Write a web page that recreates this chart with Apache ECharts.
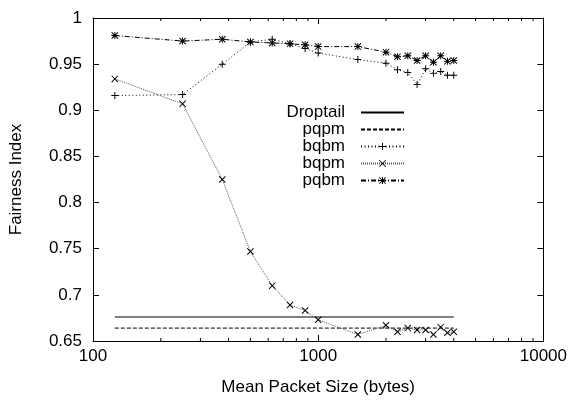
<!DOCTYPE html>
<html style="height: 100%">
<head>
    <meta charset="UTF-8">
    <title>Fairness Index vs Mean Packet Size</title>
    <script src="https://cdn.jsdelivr.net/npm/echarts/dist/echarts.min.js"></script>
    <style>
        #main {
            width: 570px;
            height: 401px;
        }
    </style>
</head>
<body style="margin: 0; background: #fff">
    <div id="main"></div>
    <script type="text/javascript">
        // packet sizes (bytes) for the measured series
        var sizes = [125, 250, 375, 500, 625, 750, 875, 1000, 1500, 2000, 2250, 2500, 2750, 3000, 3250, 3500, 3750, 4000];
        // flat reference lines only have two end points
        var flatSizes = [125, 4000];
        var droptail = [0.676, 0.676];
        var pqpm = [0.664, 0.664];
        var bqbm = [0.916, 0.917, 0.950, 0.974, 0.977, 0.972, 0.967, 0.962, 0.955, 0.951, 0.944, 0.941, 0.928, 0.945, 0.940, 0.942, 0.938, 0.938];
        var bqpm = [0.934, 0.907, 0.825, 0.747, 0.710, 0.689, 0.683, 0.673, 0.657, 0.667, 0.660, 0.664, 0.662, 0.662, 0.657, 0.665, 0.659, 0.660];
        var pqbm = [0.981, 0.975, 0.977, 0.974, 0.973, 0.972, 0.971, 0.969, 0.969, 0.963, 0.958, 0.959, 0.954, 0.959, 0.952, 0.959, 0.953, 0.954];
        var minorTicks = [200, 300, 400, 500, 600, 700, 800, 900, 2000, 3000, 4000, 5000, 6000, 7000, 8000, 9000];
        var seriesNames = ['Droptail', 'pqpm', 'bqbm', 'bqpm', 'pqbm'];
        var noMarker = ['Droptail', 'pqpm'];

        var FONT = 'Liberation Sans';
        var FS = 17;
        var plusPath = 'path://M0,4.3H10V5.7H0Z M4.3,0H5.7V10H4.3Z';
        var crossPath = 'path://M0,1L1,0L10,9L9,10Z M9,0L10,1L1,10L0,9Z';
        var starPath = 'path://M0,4.3H10V5.7H0Z M4.3,0H5.7V10H4.3Z M0,1L1,0L10,9L9,10Z M9,0L10,1L1,10L0,9Z';

        function pairs(xs, ys) {
            return xs.map(function (x, i) { return [x, ys[i]]; });
        }

        function lineSeries(name, xs, ys, dash, color, symbol) {
            return {
                name: name,
                type: 'line',
                data: pairs(xs, ys),
                symbol: symbol || 'none',
                symbolSize: 7,
                showSymbol: !!symbol,
                animation: false,
                lineStyle: { color: color, width: 1, type: dash },
                itemStyle: { color: '#000', borderWidth: 0 }
            };
        }

        var chartDom = document.getElementById('main');
        var myChart = echarts.init(chartDom);

        var tickCommon = { show: true, inside: true, length: 6, lineStyle: { color: '#000' } };

        var option = {
            animation: false,
            grid: { left: 89, right: 25, top: 18, bottom: 54 },
            legend: {
                data: seriesNames.map(function (n) {
                    return noMarker.indexOf(n) >= 0
                        ? { name: n, itemStyle: { color: 'rgba(0,0,0,0)' } }
                        : { name: n };
                }),
                orient: 'vertical',
                align: 'right',
                padding: 0,
                right: 165,
                top: 104,
                itemWidth: 43,
                itemHeight: 9,
                itemGap: 0,
                textStyle: {
                    fontFamily: FONT, fontSize: FS, color: '#000',
                    width: 66, align: 'right', lineHeight: 17, padding: [0, 11, 0, 0]
                }
            },
            xAxis: [{
                type: 'log',
                logBase: 10,
                min: 100,
                max: 10000,
                name: 'Mean Packet Size (bytes)',
                nameLocation: 'middle',
                nameGap: 38,
                nameTextStyle: { fontFamily: FONT, fontSize: FS, color: '#000' },
                axisLine: { lineStyle: { color: '#000', width: 1 } },
                axisTick: tickCommon,
                axisLabel: {
                    fontFamily: FONT, fontSize: FS, color: '#000', margin: 7,
                    formatter: function (v) { return String(v); }
                },
                splitLine: { show: false }
            }, {
                type: 'log',
                logBase: 10,
                min: 100,
                max: 10000,
                position: 'top',
                axisLine: { lineStyle: { color: '#000', width: 1 } },
                axisTick: tickCommon,
                axisLabel: { show: false },
                splitLine: { show: false }
            }],
            yAxis: [{
                type: 'value',
                min: 0.65,
                max: 1,
                interval: 0.05,
                name: 'Fairness Index',
                nameLocation: 'middle',
                nameGap: 68,
                nameTextStyle: { fontFamily: FONT, fontSize: FS, color: '#000' },
                axisLine: { show: true, lineStyle: { color: '#000', width: 1 } },
                axisTick: tickCommon,
                axisLabel: { fontFamily: FONT, fontSize: FS, color: '#000', margin: 11 },
                splitLine: { show: false }
            }, {
                type: 'value',
                min: 0.65,
                max: 1,
                interval: 0.05,
                position: 'right',
                axisLine: { show: true, lineStyle: { color: '#000', width: 1 } },
                axisTick: tickCommon,
                axisLabel: { show: false },
                splitLine: { show: false }
            }],
            series: [
                lineSeries('Droptail', flatSizes, droptail, 'solid', '#000'),
                lineSeries('pqpm', flatSizes, pqpm, [4, 2], '#000'),
                lineSeries('bqbm', sizes, bqbm, [1, 2.5], '#000', plusPath),
                lineSeries('bqpm', sizes, bqpm, [1, 1], '#555', crossPath),
                lineSeries('pqbm', sizes, pqbm, [5, 2, 1, 2], '#000', starPath),
                {
                    // minor log ticks on bottom and top edges
                    type: 'custom',
                    silent: true,
                    animation: false,
                    data: minorTicks.map(function (v) { return [v, 0.65]; }),
                    encode: { x: 0, y: 1 },
                    renderItem: function (params, api) {
                        var x = api.coord([api.value(0), api.value(1)])[0];
                        var cs = params.coordSys;
                        var st = { stroke: '#000', lineWidth: 1 };
                        return {
                            type: 'group',
                            children: [
                                { type: 'line', shape: { x1: x, y1: cs.y + cs.height, x2: x, y2: cs.y + cs.height - 3 }, style: st },
                                { type: 'line', shape: { x1: x, y1: cs.y, x2: x, y2: cs.y + 3 }, style: st }
                            ]
                        };
                    }
                }
            ]
        };

        myChart.setOption(option);
    </script>
</body>
</html>
